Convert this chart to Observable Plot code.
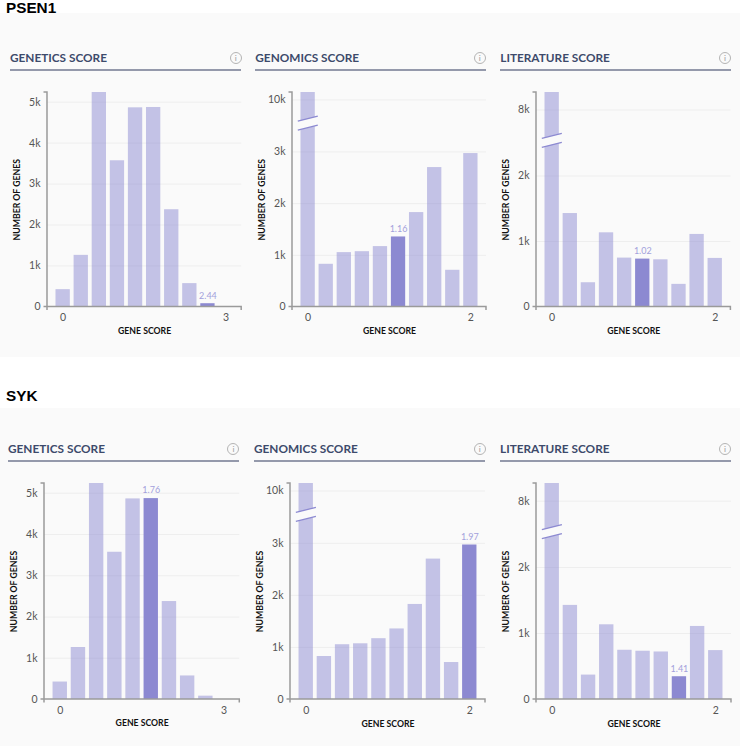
<!DOCTYPE html>
<html>
<head>
<meta charset="utf-8">
<script src="https://cdn.jsdelivr.net/npm/d3@7"></script>
<script src="https://cdn.jsdelivr.net/npm/@observablehq/plot@0.6"></script>
<style>
html,body{margin:0;padding:0;background:#fff;}
#page{position:relative;width:740px;height:746px;overflow:hidden;font-family:Lato,sans-serif;}
.band{position:absolute;left:0;width:740px;background:#fafafa;}
.gene{position:absolute;left:6px;font:bold 15.3px/18px "Liberation Sans",Arial,sans-serif;color:#000;}
.title{position:absolute;font:700 11.8px/16px Lato,sans-serif;color:#3d4a6b;white-space:nowrap;}
.rule{position:absolute;height:2px;background:#9499ab;}
.info{position:absolute;width:10px;height:10px;border:1.3px solid #b4b4b4;border-radius:50%;font:600 8px/10px Lato,sans-serif;color:#a8a8a8;text-align:center;}
.plot{position:absolute;}
</style>
</head>
<body>
<div id="page"></div>
<script>
const geneNames = ["PSEN1", "SYK"];
const panelTitles = ["GENETICS SCORE", "GENOMICS SCORE", "LITERATURE SCORE"];
const binIndex = [0, 1, 2, 3, 4, 5, 6, 7, 8, 9];
const geneticsCounts = [423, 1260, 5236, 3569, 4862, 4870, 2374, 570, 80, 0];
const genomicsCounts = [11000, 826, 1052, 1070, 1168, 1355, 1826, 2697, 710, 2968];
const literatureCounts = [9600, 1426, 370, 1132, 746, 731, 720, 345, 1107, 741];
const seriesCounts = [geneticsCounts, genomicsCounts, literatureCounts];
const yTicks = [
  [0, 1000, 2000, 3000, 4000, 5000],
  [0, 1000, 2000, 3000, 10000],
  [0, 1000, 2000, 8000]
];
const xTickLabels = [["0", "3"], ["0", "2"], ["0", "2"]];
const yDomainStops = [[0, 5236], [0, 3000, 11000], [0, 2000, 9600]];
const breakValues = [null, 6800, 5200];
const selectedBins = [[8, 5, 5], [5, 9, 7]];
const selectedScores = [["2.44", "1.16", "1.02"], ["1.76", "1.97", "1.41"]];

// layout only
const rows = [
  {bandTop: 13, bandH: 344, geneTop: -1, titleY: 58, ruleY: 69.5, top: 91.7, zero: 306.2,
   cols: [{l: 10, ax: 46.5, r: 240.7, ic: 236}, {l: 255.3, ax: 291.7, r: 485.7, ic: 480}, {l: 500.3, ax: 536.3, r: 730.7, ic: 725.3}]},
  {bandTop: 408, bandH: 338, geneTop: 387, titleY: 449, ruleY: 460.5, top: 483, zero: 699,
   cols: [{l: 8, ax: 44, r: 239.3, ic: 233.7}, {l: 254, ax: 290, r: 485, ic: 480}, {l: 500, ax: 535.7, r: 730.7, ic: 725.3}]}
];
const stopFractions = [[0, 1], [0, 0.723, 1], [0, 0.611, 1]];

const AXIS = "#9a9a9a", BAR = "#8c89d1", LABEL = "#a3a1dc", GRID = "#eeeeee";
const page = document.getElementById("page");
function add(cls, css, txt) {
  const d = document.createElement("div");
  d.className = cls;
  Object.assign(d.style, css);
  if (txt) d.textContent = txt;
  page.appendChild(d);
  return d;
}
const fmtK = v => v === 0 ? "0" : (v / 1000) + "k";

rows.forEach((row, ri) => {
  add("band", {top: row.bandTop + "px", height: row.bandH + "px"});
  add("gene", {top: row.geneTop + "px"}, geneNames[ri]);
  row.cols.forEach((c, ci) => {
    add("title", {left: c.l + "px", top: (row.titleY - 8) + "px"}, panelTitles[ci]);
    add("rule", {left: c.l + "px", width: (c.r - c.l) + "px", top: (row.ruleY - 1) + "px"});
    add("info", {left: (c.ic - 6.3) + "px", top: (row.titleY - 6.3) + "px"}, "i");

    const mL = 40, mR = 5, mT = 12, mB = 40;
    const h = row.zero - row.top + mT + mB;
    const w = c.r - c.ax + mL + mR;
    const counts = seriesCounts[ci];
    const table = binIndex.map(b => ({bin: b, count: counts[b]}));
    const sel = selectedBins[ri][ci];
    const brk = breakValues[ci];
    const lastBin = binIndex[binIndex.length - 1];
    const labelFor = d => d === binIndex[0] ? xTickLabels[ci][0] : xTickLabels[ci][1];
    // broken value axis: piecewise map from gene count to fraction of the axis height
    const piecewise = d3.scaleLinear().domain(yDomainStops[ci]).range(stopFractions[ci]);
    const inner = 0.21;

    const domainLines = (index, scales, values, dim) => {
      const g = d3.create("svg:g").attr("fill", "none").attr("stroke", AXIS).attr("stroke-width", 1.5);
      const L = dim.marginLeft, R = dim.width - dim.marginRight, T = dim.marginTop, B = dim.height - dim.marginBottom;
      g.append("path").attr("d", `M${L - 3.5},${T}H${L}V${B + 3.5}`);
      g.append("path").attr("d", `M${L - 3.5},${B}H${R}V${B + 3.5}`);
      return g.node();
    };
    const breakMark = (index, scales, values, dim) => {
      const g = d3.create("svg:g");
      const step = scales.x(binIndex[1]) - scales.x(binIndex[0]);
      const x0 = scales.x(binIndex[0]) - 2.7, x1 = scales.x(binIndex[0]) + step * (1 - inner) + 3;
      const T = dim.marginTop, B = dim.height - dim.marginBottom;
      const yc = B - piecewise(brk) * (B - T);
      g.append("path").attr("fill", "#fafafa")
        .attr("d", `M${x0},${yc - 2}L${x1},${yc - 7}V${yc + 2}L${x0},${yc + 7}Z`);
      g.append("path").attr("fill", "none").attr("stroke", BAR).attr("stroke-width", 1.3)
        .attr("d", `M${x0},${yc - 2}L${x1},${yc - 7}M${x0},${yc + 7}L${x1},${yc + 2}`);
      return g.node();
    };

    const svg = Plot.plot({
      width: w, height: h,
      marginLeft: mL, marginRight: mR, marginTop: mT, marginBottom: mB,
      style: {background: "transparent", fontFamily: "Lato, sans-serif"},
      x: {type: "band", domain: binIndex, paddingInner: inner, paddingOuter: 0.47, round: false, axis: null},
      y: {transform: v => piecewise(v), domain: [0, 1], axis: null},
      marks: [
        Plot.ruleY(yTicks[ci].slice(1), {stroke: GRID, strokeWidth: 1}),
        Plot.barY(table.filter(d => d.bin !== sel && d.count > 0), {x: "bin", y: "count", fill: BAR, fillOpacity: 0.5}),
        Plot.barY(table.filter(d => d.bin === sel), {x: "bin", y: "count", fill: BAR}),
        brk == null ? null : breakMark,
        domainLines,
        Plot.text(yTicks[ci], {y: d => d, text: fmtK, frameAnchor: "left", textAnchor: "end", dx: -7, fill: "#555", fontSize: 10.5}),
        Plot.axisX({ticks: [binIndex[0], lastBin], tickFormat: labelFor, tickSize: 0, tickPadding: 7, fontSize: 10.5, color: "#555", label: null}),
        Plot.text(table.filter(d => d.bin === sel), {x: "bin", y: "count", text: () => selectedScores[ri][ci], dy: -8, fill: LABEL, fontSize: 9}),
        Plot.text(["NUMBER OF GENES"], {frameAnchor: "left", textAnchor: "middle", rotate: -90, dx: -30, fill: "#111", fontSize: 8.7, fontWeight: 700}),
        Plot.text(["GENE SCORE"], {frameAnchor: "bottom", dy: 27, fill: "#111", fontSize: 8.7, fontWeight: 700})
      ]
    });
    svg.classList.add("plot");
    svg.style.left = (c.ax - mL) + "px";
    svg.style.top = (row.top - mT) + "px";
    page.appendChild(svg);
  });
});
</script>
</body>
</html>
